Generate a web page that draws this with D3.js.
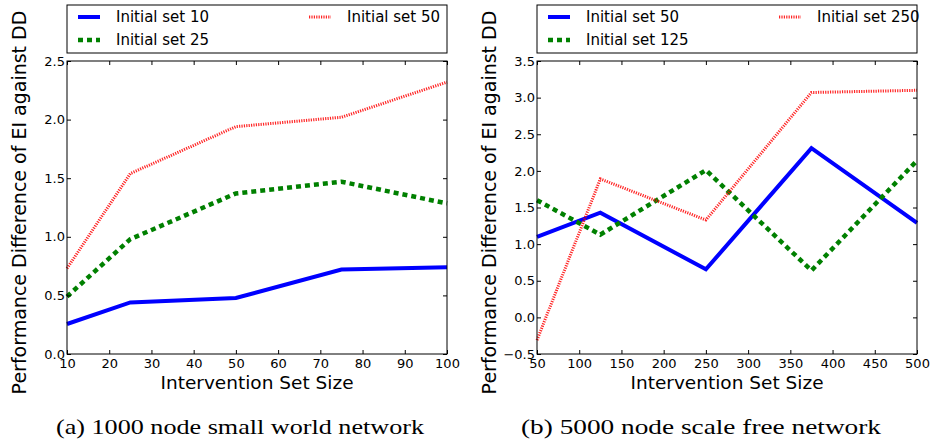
<!DOCTYPE html>
<html>
<head>
<meta charset="utf-8">
<script src="https://cdn.jsdelivr.net/npm/d3@7"></script>
<style>
  body { margin: 0; background: #fff; }
  svg { display: block; font-family: "DejaVu Sans", sans-serif; }
</style>
</head>
<body>
<div id="chart"></div>
<script>
// left panel: 1000 node small world
const leftSizes = [10, 25, 50, 75, 100];
const leftInit10 = [0.256, 0.44, 0.478, 0.72, 0.74];
const leftInit25 = [0.49, 0.98, 1.37, 1.47, 1.285];
const leftInit50 = [0.73, 1.54, 1.94, 2.02, 2.32];
const leftXTicks = [10, 20, 30, 40, 50, 60, 70, 80, 90, 100];
const leftYTicks = [0, 0.5, 1, 1.5, 2, 2.5];
const leftNames = ["Initial set 10", "Initial set 25", "Initial set 50"];

// right panel: 5000 node scale free
const rightSizes = [50, 125, 250, 375, 500];
const rightInit50 = [1.10, 1.43, 0.656, 2.31, 1.29];
const rightInit125 = [1.60, 1.13, 2.01, 0.64, 2.14];
const rightInit250 = [-0.31, 1.89, 1.33, 3.07, 3.10];
const rightXTicks = [50, 100, 150, 200, 250, 300, 350, 400, 450, 500];
const rightYTicks = [-0.5, 0, 0.5, 1, 1.5, 2, 2.5, 3, 3.5];
const rightNames = ["Initial set 50", "Initial set 125", "Initial set 250"];

const captions = ["(a) 1000 node small world network", "(b) 5000 node scale free network"];

const styles = [
  {color: "#0000ff", width: 4, dash: null},
  {color: "#008000", width: 4.5, dash: "5,4"},
  {color: "#ff0000", width: 3, dash: "1.2,1.2", opacity: 0.85}
];

const svg = d3.select("#chart").append("svg")
  .attr("width", 933).attr("height", 442);

function drawPanel(left, sizes, series, names, xTicks, yTicks, caption, capShift, capLen) {
  const top = 61, bottom = 354, right = left + 380;
  const x = d3.scaleLinear().domain(d3.extent(xTicks)).range([left, right]);
  const y = d3.scaleLinear().domain(d3.extent(yTicks)).range([bottom, top]);
  const g = svg.append("g");

  // lines
  series.forEach((vals, i) => {
    const s = styles[i];
    g.append("path")
      .datum(vals.map((v, j) => [sizes[j], v]))
      .attr("fill", "none")
      .attr("stroke", s.color)
      .attr("stroke-width", s.width)
      .attr("stroke-opacity", s.opacity || 1)
      .attr("stroke-dasharray", s.dash)
      .attr("stroke-linejoin", "miter")
      .attr("d", d3.line().x(d => x(d[0])).y(d => y(d[1])));
  });

  // axes, ticks pointing inward
  const fmt = d3.format(".1f");
  g.append("g").attr("transform", `translate(0,${bottom})`)
    .call(d3.axisBottom(x).tickValues(xTicks).tickSizeInner(-4).tickSizeOuter(0).tickPadding(5));
  g.append("g").attr("transform", `translate(${left},0)`)
    .call(d3.axisLeft(y).tickValues(yTicks).tickFormat(fmt).tickSizeInner(-4).tickSizeOuter(0).tickPadding(2));
  g.append("g").attr("transform", `translate(0,${top})`)
    .call(d3.axisTop(x).tickValues(xTicks).tickFormat("").tickSizeInner(-4).tickSizeOuter(0));
  g.append("g").attr("transform", `translate(${right},0)`)
    .call(d3.axisRight(y).tickValues(yTicks).tickFormat("").tickSizeInner(-4).tickSizeOuter(0));
  g.selectAll(".tick text").attr("font-size", 13).attr("font-family", "DejaVu Sans").attr("fill", "#000");
  g.selectAll(".domain").remove();
  g.append("rect")
    .attr("x", left).attr("y", top).attr("width", right - left).attr("height", bottom - top)
    .attr("fill", "none").attr("stroke", "#000").attr("stroke-width", 1);

  // axis labels
  g.append("text")
    .attr("x", (left + right) / 2).attr("y", 389)
    .attr("text-anchor", "middle").attr("font-size", 18.5)
    .text("Intervention Set Size");
  g.append("text")
    .attr("transform", `translate(${left - 48},${(top + bottom) / 2 - 5}) rotate(-90)`)
    .attr("text-anchor", "middle").attr("dominant-baseline", "central").attr("font-size", 19)
    .text("Performance Difference of EI against DD");

  // legend
  g.append("rect")
    .attr("x", left).attr("y", 5).attr("width", right - left).attr("height", 48)
    .attr("fill", "#fff").attr("stroke", "#000").attr("stroke-width", 1);
  const pos = [[left + 11, 17], [left + 11, 40], [left + 242, 17]];
  names.forEach((n, i) => {
    const s = styles[i];
    const [lx, ly] = pos[i];
    g.append("line")
      .attr("x1", lx).attr("x2", lx + 22).attr("y1", ly).attr("y2", ly)
      .attr("stroke", s.color).attr("stroke-width", s.width)
      .attr("stroke-opacity", s.opacity || 1)
      .attr("stroke-dasharray", s.dash);
    g.append("text")
      .attr("x", lx + 38).attr("y", ly).attr("dy", "0.35em")
      .attr("font-size", 15).text(n);
  });

  // caption
  g.append("text")
    .attr("x", (left + right) / 2 + capShift).attr("y", 434)
    .attr("text-anchor", "middle")
    .attr("font-family", "Liberation Serif, serif").attr("font-size", 22)
    .attr("textLength", capLen).attr("lengthAdjust", "spacingAndGlyphs")
    .text(caption);
}

drawPanel(67, leftSizes, [leftInit10, leftInit25, leftInit50], leftNames, leftXTicks, leftYTicks, captions[0], -17, 368);
drawPanel(537, rightSizes, [rightInit50, rightInit125, rightInit250], rightNames, rightXTicks, rightYTicks, captions[1], -26, 360);
</script>
</body>
</html>
